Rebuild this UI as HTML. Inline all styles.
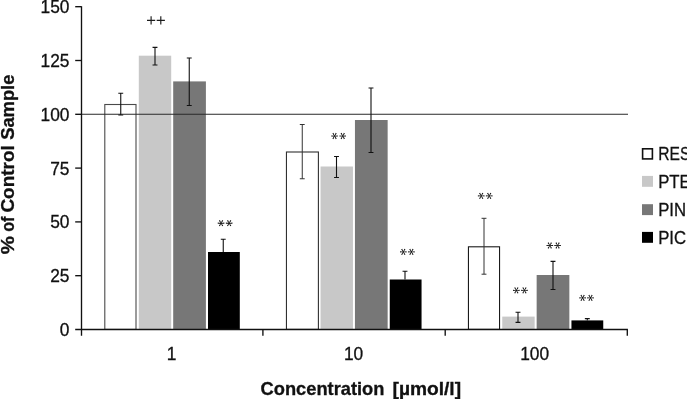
<!DOCTYPE html>
<html><head><meta charset="utf-8"><title>chart</title>
<style>
html,body{margin:0;padding:0;background:#fff;}
body{width:687px;height:399px;overflow:hidden;}
svg{display:block;will-change:transform;}
text{font-family:"Liberation Sans",sans-serif;fill:#111;stroke:#111;stroke-width:0.3px;}
.b{font-weight:bold;}
</style></head><body>
<svg width="687" height="399" viewBox="0 0 687 399">
<rect width="687" height="399" fill="#fff"/>

<rect x="104.80" y="104.50" width="31.20" height="224.90" fill="#fff" stroke="#4a4a4a" stroke-width="1.1"/>
<rect x="138.80" y="55.70" width="32.40" height="273.80" fill="#c8c8c8"/>
<rect x="173.20" y="81.40" width="32.70" height="248.10" fill="#777777"/>
<rect x="208.00" y="252.00" width="31.80" height="77.50" fill="#000000"/>
<rect x="286.45" y="152.00" width="31.95" height="177.40" fill="#fff" stroke="#303030" stroke-width="1.1"/>
<rect x="320.55" y="166.50" width="32.40" height="163.00" fill="#c8c8c8"/>
<rect x="354.95" y="120.00" width="32.70" height="209.50" fill="#777777"/>
<rect x="389.75" y="279.50" width="31.80" height="50.00" fill="#000000"/>
<rect x="468.45" y="246.80" width="31.10" height="82.60" fill="#fff" stroke="#1a1a1a" stroke-width="1.1"/>
<rect x="502.25" y="316.60" width="32.40" height="12.90" fill="#c8c8c8"/>
<rect x="536.65" y="275.00" width="32.70" height="54.50" fill="#777777"/>
<rect x="571.45" y="320.40" width="31.80" height="9.10" fill="#000000"/>
<line x1="81.5" y1="114.25" x2="628" y2="114.25" stroke="#2a2a2a" stroke-width="1"/>
<path d="M118.30 93.25H123.20M120.75 93.25V115.00M118.30 115.00H123.20" stroke="#111" stroke-width="1.1" fill="none"/>
<path d="M152.55 47.40H157.45M155.00 47.40V65.00M152.55 65.00H157.45" stroke="#111" stroke-width="1.1" fill="none"/>
<path d="M186.80 58.00H191.70M189.25 58.00V105.50M186.80 105.50H191.70" stroke="#111" stroke-width="1.1" fill="none"/>
<path d="M220.80 239.25H225.70M223.25 239.25V252.00" stroke="#111" stroke-width="1.1" fill="none"/>
<path d="M299.80 124.50H304.70M302.25 124.50V178.75M299.80 178.75H304.70" stroke="#333" stroke-width="1.0" fill="none"/>
<path d="M334.05 156.50H338.95M336.50 156.50V177.50M334.05 177.50H338.95" stroke="#111" stroke-width="1.1" fill="none"/>
<path d="M368.55 88.00H373.45M371.00 88.00V152.50M368.55 152.50H373.45" stroke="#111" stroke-width="1.1" fill="none"/>
<path d="M402.55 271.25H407.45M405.00 271.25V279.50" stroke="#111" stroke-width="1.1" fill="none"/>
<path d="M481.55 218.30H486.45M484.00 218.30V274.20M481.55 274.20H486.45" stroke="#333" stroke-width="1.0" fill="none"/>
<path d="M515.55 312.20H520.45M518.00 312.20V322.40M515.55 322.40H520.45" stroke="#111" stroke-width="1.1" fill="none"/>
<path d="M550.55 261.40H555.45M553.00 261.40V289.50M550.55 289.50H555.45" stroke="#111" stroke-width="1.1" fill="none"/>
<path d="M584.85 318.60H589.75M587.30 318.60V320.40" stroke="#111" stroke-width="1.1" fill="none"/>
<path d="M81.5 6.2V335.8M75.2 329.5H627.9" stroke="#111" stroke-width="1.35" fill="none"/>
<line x1="75.2" x2="81.5" y1="275.70" y2="275.70" stroke="#111" stroke-width="1.35"/>
<line x1="75.2" x2="81.5" y1="221.90" y2="221.90" stroke="#111" stroke-width="1.35"/>
<line x1="75.2" x2="81.5" y1="168.10" y2="168.10" stroke="#111" stroke-width="1.35"/>
<line x1="75.2" x2="81.5" y1="114.30" y2="114.30" stroke="#111" stroke-width="1.35"/>
<line x1="75.2" x2="81.5" y1="60.50" y2="60.50" stroke="#111" stroke-width="1.35"/>
<line x1="75.2" x2="81.5" y1="6.70" y2="6.70" stroke="#111" stroke-width="1.35"/>
<line x1="262.9" x2="262.9" y1="329.5" y2="335.8" stroke="#111" stroke-width="1.35"/>
<line x1="445.2" x2="445.2" y1="329.5" y2="335.8" stroke="#111" stroke-width="1.35"/>
<line x1="627.3" x2="627.3" y1="329.5" y2="335.8" stroke="#111" stroke-width="1.35"/>
<text transform="translate(69.5,336.00) scale(0.98,1)" font-size="17.7" text-anchor="end">0</text>
<text transform="translate(69.5,282.20) scale(0.98,1)" font-size="17.7" text-anchor="end">25</text>
<text transform="translate(69.5,228.40) scale(0.98,1)" font-size="17.7" text-anchor="end">50</text>
<text transform="translate(69.5,174.60) scale(0.98,1)" font-size="17.7" text-anchor="end">75</text>
<text transform="translate(69.5,120.80) scale(0.98,1)" font-size="17.7" text-anchor="end">100</text>
<text transform="translate(69.5,67.00) scale(0.98,1)" font-size="17.7" text-anchor="end">125</text>
<text transform="translate(69.5,13.20) scale(0.98,1)" font-size="17.7" text-anchor="end">150</text>
<text transform="translate(171.6,360.2) scale(0.98,1)" font-size="17.7" text-anchor="middle">1</text>
<text transform="translate(353.6,360.2) scale(0.98,1)" font-size="17.7" text-anchor="middle">10</text>
<text transform="translate(534.6,360.2) scale(0.98,1)" font-size="17.7" text-anchor="middle">100</text>
<path d="M221.05 223.42L224.35 223.82L224.35 222.58L221.05 222.98ZM220.86 223.31L222.16 226.37L223.24 225.75L221.24 223.09ZM220.86 223.09L218.86 225.75L219.94 226.37L221.24 223.31ZM221.05 222.98L217.75 222.58L217.75 223.82L221.05 223.42ZM221.24 223.09L219.94 220.03L218.86 220.65L220.86 223.31ZM221.24 223.31L223.24 220.65L222.16 220.03L220.86 223.09ZM229.15 223.42L232.45 223.82L232.45 222.58L229.15 222.98ZM228.96 223.31L230.26 226.37L231.34 225.75L229.34 223.09ZM228.96 223.09L226.96 225.75L228.04 226.37L229.34 223.31ZM229.15 222.98L225.85 222.58L225.85 223.82L229.15 223.42ZM229.34 223.09L228.04 220.03L226.96 220.65L228.96 223.31ZM229.34 223.31L231.34 220.65L230.26 220.03L228.96 223.09ZM334.55 136.22L337.85 136.62L337.85 135.38L334.55 135.78ZM334.36 136.11L335.66 139.17L336.74 138.55L334.74 135.89ZM334.36 135.89L332.36 138.55L333.44 139.17L334.74 136.11ZM334.55 135.78L331.25 135.38L331.25 136.62L334.55 136.22ZM334.74 135.89L333.44 132.83L332.36 133.45L334.36 136.11ZM334.74 136.11L336.74 133.45L335.66 132.83L334.36 135.89ZM342.75 136.22L346.05 136.62L346.05 135.38L342.75 135.78ZM342.56 136.11L343.86 139.17L344.94 138.55L342.94 135.89ZM342.56 135.89L340.56 138.55L341.64 139.17L342.94 136.11ZM342.75 135.78L339.45 135.38L339.45 136.62L342.75 136.22ZM342.94 135.89L341.64 132.83L340.56 133.45L342.56 136.11ZM342.94 136.11L344.94 133.45L343.86 132.83L342.56 135.89ZM403.30 252.12L406.60 252.52L406.60 251.28L403.30 251.68ZM403.11 252.01L404.41 255.07L405.49 254.45L403.49 251.79ZM403.11 251.79L401.11 254.45L402.19 255.07L403.49 252.01ZM403.30 251.68L400.00 251.28L400.00 252.52L403.30 252.12ZM403.49 251.79L402.19 248.73L401.11 249.35L403.11 252.01ZM403.49 252.01L405.49 249.35L404.41 248.73L403.11 251.79ZM411.40 252.12L414.70 252.52L414.70 251.28L411.40 251.68ZM411.21 252.01L412.51 255.07L413.59 254.45L411.59 251.79ZM411.21 251.79L409.21 254.45L410.29 255.07L411.59 252.01ZM411.40 251.68L408.10 251.28L408.10 252.52L411.40 252.12ZM411.59 251.79L410.29 248.73L409.21 249.35L411.21 252.01ZM411.59 252.01L413.59 249.35L412.51 248.73L411.21 251.79ZM481.20 196.12L484.50 196.52L484.50 195.28L481.20 195.68ZM481.01 196.01L482.31 199.07L483.39 198.45L481.39 195.79ZM481.01 195.79L479.01 198.45L480.09 199.07L481.39 196.01ZM481.20 195.68L477.90 195.28L477.90 196.52L481.20 196.12ZM481.39 195.79L480.09 192.73L479.01 193.35L481.01 196.01ZM481.39 196.01L483.39 193.35L482.31 192.73L481.01 195.79ZM489.20 196.12L492.50 196.52L492.50 195.28L489.20 195.68ZM489.01 196.01L490.31 199.07L491.39 198.45L489.39 195.79ZM489.01 195.79L487.01 198.45L488.09 199.07L489.39 196.01ZM489.20 195.68L485.90 195.28L485.90 196.52L489.20 196.12ZM489.39 195.79L488.09 192.73L487.01 193.35L489.01 196.01ZM489.39 196.01L491.39 193.35L490.31 192.73L489.01 195.79ZM516.35 290.62L519.65 291.02L519.65 289.78L516.35 290.18ZM516.16 290.51L517.46 293.57L518.54 292.95L516.54 290.29ZM516.16 290.29L514.16 292.95L515.24 293.57L516.54 290.51ZM516.35 290.18L513.05 289.78L513.05 291.02L516.35 290.62ZM516.54 290.29L515.24 287.23L514.16 287.85L516.16 290.51ZM516.54 290.51L518.54 287.85L517.46 287.23L516.16 290.29ZM524.45 290.62L527.75 291.02L527.75 289.78L524.45 290.18ZM524.26 290.51L525.56 293.57L526.64 292.95L524.64 290.29ZM524.26 290.29L522.26 292.95L523.34 293.57L524.64 290.51ZM524.45 290.18L521.15 289.78L521.15 291.02L524.45 290.62ZM524.64 290.29L523.34 287.23L522.26 287.85L524.26 290.51ZM524.64 290.51L526.64 287.85L525.56 287.23L524.26 290.29ZM549.80 245.72L553.10 246.12L553.10 244.88L549.80 245.28ZM549.61 245.61L550.91 248.67L551.99 248.05L549.99 245.39ZM549.61 245.39L547.61 248.05L548.69 248.67L549.99 245.61ZM549.80 245.28L546.50 244.88L546.50 246.12L549.80 245.72ZM549.99 245.39L548.69 242.33L547.61 242.95L549.61 245.61ZM549.99 245.61L551.99 242.95L550.91 242.33L549.61 245.39ZM557.60 245.72L560.90 246.12L560.90 244.88L557.60 245.28ZM557.41 245.61L558.71 248.67L559.79 248.05L557.79 245.39ZM557.41 245.39L555.41 248.05L556.49 248.67L557.79 245.61ZM557.60 245.28L554.30 244.88L554.30 246.12L557.60 245.72ZM557.79 245.39L556.49 242.33L555.41 242.95L557.41 245.61ZM557.79 245.61L559.79 242.95L558.71 242.33L557.41 245.39ZM582.60 298.12L585.90 298.52L585.90 297.28L582.60 297.68ZM582.41 298.01L583.71 301.07L584.79 300.45L582.79 297.79ZM582.41 297.79L580.41 300.45L581.49 301.07L582.79 298.01ZM582.60 297.68L579.30 297.28L579.30 298.52L582.60 298.12ZM582.79 297.79L581.49 294.73L580.41 295.35L582.41 298.01ZM582.79 298.01L584.79 295.35L583.71 294.73L582.41 297.79ZM590.50 298.12L593.80 298.52L593.80 297.28L590.50 297.68ZM590.31 298.01L591.61 301.07L592.69 300.45L590.69 297.79ZM590.31 297.79L588.31 300.45L589.39 301.07L590.69 298.01ZM590.50 297.68L587.20 297.28L587.20 298.52L590.50 298.12ZM590.69 297.79L589.39 294.73L588.31 295.35L590.31 298.01ZM590.69 298.01L592.69 295.35L591.61 294.73L590.31 297.79Z" fill="#111"/>
<path d="M147.0 20.3H155.2M151.1 16.200000000000003V24.4M156.70000000000002 20.3H164.9M160.8 16.200000000000003V24.4" stroke="#1c1c1c" stroke-width="1.15" fill="none"/>
<text class="b" stroke="#111" stroke-width="0.25" lengthAdjust="spacingAndGlyphs" x="260.6" y="394.6" font-size="17.8" textLength="123.8">Concentration</text>
<text class="b" stroke="#111" stroke-width="0.25" lengthAdjust="spacingAndGlyphs" x="392.5" y="394.6" font-size="17.8" textLength="68.6">[µmol/l]</text>
<g transform="translate(14.1,254.2) rotate(-90)">
<text class="b" stroke="#111" stroke-width="0.25" lengthAdjust="spacingAndGlyphs" x="0.0" y="0" font-size="17.6" textLength="18.2">%</text>
<text class="b" stroke="#111" stroke-width="0.25" lengthAdjust="spacingAndGlyphs" x="22.4" y="0" font-size="17.6" textLength="15.2">of</text>
<text class="b" stroke="#111" stroke-width="0.25" lengthAdjust="spacingAndGlyphs" x="41.6" y="0" font-size="17.6" textLength="67.4">Control</text>
<text class="b" stroke="#111" stroke-width="0.25" lengthAdjust="spacingAndGlyphs" x="114.4" y="0" font-size="17.6" textLength="65.2">Sample</text>
</g>
<rect x="642.6" y="148.80" width="9.8" height="10.1" fill="#fff" stroke="#111" stroke-width="1.6"/>
<text transform="translate(658.2,160.20) scale(0.845,1)" font-size="18.5">RES</text>
<rect x="642" y="175.90" width="11" height="10.9" fill="#c8c8c8"/>
<text transform="translate(658.2,188.20) scale(0.905,1)" font-size="18.5">PTE</text>
<rect x="642" y="204.20" width="11" height="10.9" fill="#777"/>
<text transform="translate(658.2,215.90) scale(0.905,1)" font-size="18.5">PIN</text>
<rect x="642" y="231.90" width="11" height="10.9" fill="#000"/>
<text transform="translate(658.2,243.60) scale(0.905,1)" font-size="18.5">PIC</text>
</svg></body></html>
